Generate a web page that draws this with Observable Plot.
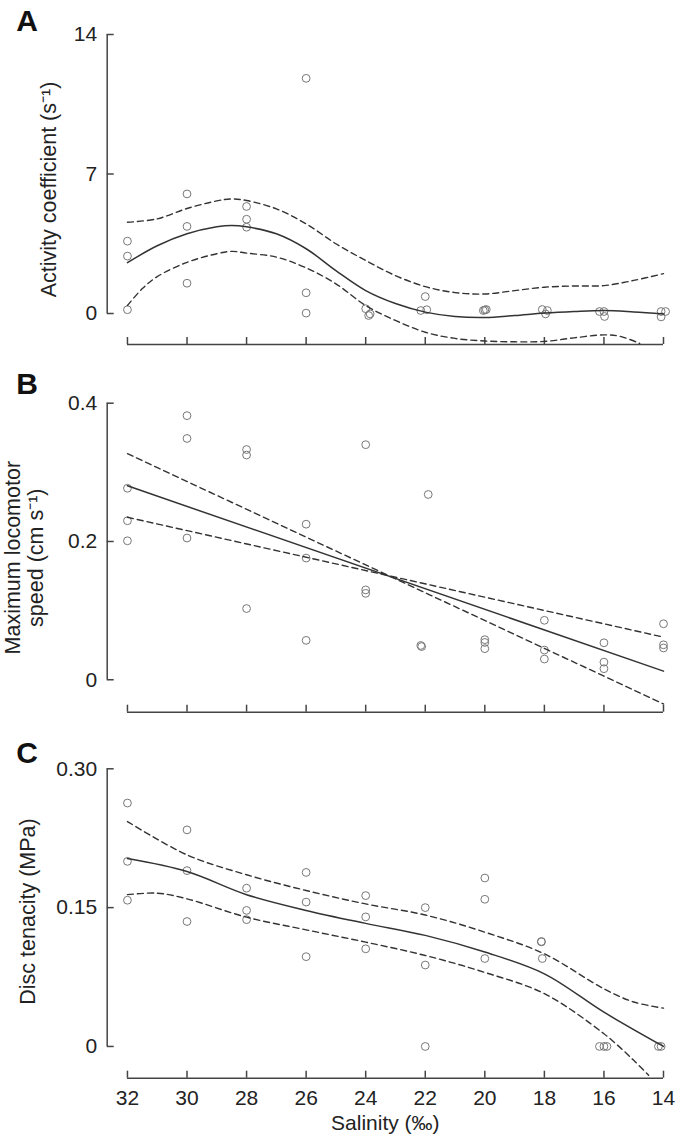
<!DOCTYPE html>
<html>
<head>
<meta charset="utf-8">
<script src="https://cdn.jsdelivr.net/npm/d3@7"></script>
<script src="https://cdn.jsdelivr.net/npm/@observablehq/plot@0.6"></script>
<style>
  body { margin: 0; background: #fff; }
  #chart svg { display: block; overflow: visible; }
</style>
</head>
<body>
<div id="chart"></div>
<script>
// salinity (‰) on a reversed x axis, shared by all three panels
const salinityTicks = [32, 30, 28, 26, 24, 22, 20, 18, 16, 14];

// A: activity coefficient
const activityTicks = [0, 7, 14];
const activityLabels = ["0", "7", "14"];
const activityX = [32, 32, 32, 30, 30, 30, 28, 28, 28, 26, 26, 26, 24, 23.9, 23.85, 22, 22.15, 21.95, 20.05, 19.95, 20, 18.07, 17.96, 17.9, 16.15, 15.98, 16, 14.08, 14.08, 13.93];
const activityY = [3.63, 2.88, 0.19, 6.0, 4.37, 1.52, 5.37, 4.73, 4.33, 11.8, 1.04, 0.02, 0.24, -0.1, -0.02, 0.85, 0.15, 0.19, 0.15, 0.2, 0.18, 0.2, -0.02, 0.15, 0.1, -0.15, 0.1, 0.1, -0.17, 0.1];
const activityFitX = [32, 31, 30, 29, 28.5, 28, 27, 26, 25, 24, 23, 22, 21, 20, 19, 18, 17, 16, 15, 14];
const activityFit = [2.55, 3.4, 4.0, 4.35, 4.42, 4.35, 4.0, 3.25, 2.15, 1.15, 0.5, 0.07, -0.15, -0.2, -0.1, 0.02, 0.1, 0.15, 0.08, -0.02];
const activityUpper = [4.58, 4.75, 5.27, 5.65, 5.75, 5.67, 5.25, 4.5, 3.5, 2.66, 1.9, 1.35, 1.05, 0.98, 1.15, 1.32, 1.38, 1.4, 1.66, 2.0];
const activityLowerX = [32, 31.5, 31, 30, 29, 28.5, 28, 27, 26, 25, 24, 23, 22, 21, 20, 19, 18, 17, 16, 15.45, 14.8];
const activityLower = [0.4, 1.25, 1.85, 2.57, 3.0, 3.12, 3.03, 2.83, 2.29, 1.49, 0.4, -0.35, -0.94, -1.25, -1.38, -1.42, -1.4, -1.22, -1.07, -1.15, -1.5];

// B: maximum locomotor speed
const speedTicks = [0, 0.2, 0.4];
const speedLabels = ["0", "0.2", "0.4"];
const speedX = [32, 32, 32, 30, 30, 30, 28, 28, 28, 26, 26, 26, 24, 24, 24, 21.9, 22.15, 22.12, 20, 20, 20, 18, 18, 18, 16, 16, 16, 14, 14, 14];
const speedY = [0.277, 0.23, 0.201, 0.382, 0.349, 0.205, 0.333, 0.325, 0.103, 0.225, 0.176, 0.057, 0.34, 0.13, 0.125, 0.268, 0.0496, 0.048, 0.058, 0.054, 0.045, 0.086, 0.043, 0.03, 0.0535, 0.0255, 0.016, 0.081, 0.0506, 0.046];
const speedFitX = [32, 14];
const speedFit = [0.2805, 0.0125];
const speedSteep = [0.327, -0.035];
const speedShallow = [0.235, 0.0617];

// C: disc tenacity
const tenacityTicks = [0, 0.15, 0.3];
const tenacityLabels = ["0", "0.15", "0.30"];
const tenacityX = [32, 32, 32, 30, 30, 30, 28, 28, 28, 26, 26, 26, 24, 24, 24, 22, 22, 22, 20, 20, 20, 18.1, 18.1, 18.07, 16.15, 16, 15.9, 14.17, 14.08];
const tenacityY = [0.263, 0.2, 0.158, 0.234, 0.19, 0.135, 0.171, 0.147, 0.137, 0.188, 0.156, 0.097, 0.163, 0.14, 0.1055, 0.15, 0.088, 0, 0.182, 0.159, 0.095, 0.1134, 0.113, 0.095, 0, 0, 0, 0, 0];
const tenacityFitX = [32, 30, 28, 26, 24, 22, 20, 18, 16, 14];
const tenacityFit = [0.203, 0.189, 0.164, 0.147, 0.133, 0.12, 0.102, 0.0785, 0.037, 0];
const tenacityUpperX = [32, 30, 28, 26, 24, 22, 20, 18, 16, 15, 14];
const tenacityUpper = [0.243, 0.207, 0.1855, 0.1685, 0.154, 0.142, 0.1235, 0.1, 0.0623, 0.048, 0.0414];
const tenacityLowerX = [32, 31, 30, 28, 26, 24, 22, 20, 18, 16, 15, 14.5];
const tenacityLower = [0.164, 0.1656, 0.1595, 0.1397, 0.126, 0.1127, 0.0983, 0.08, 0.057, 0.0137, -0.015, -0.031];

const zip = (xs, ys) => xs.map((x, i) => ({x, y: ys[i]}));

const ink = "#333";
const axisInk = "#444";
const xLeft = 32.68;

function panel(o) {
  const fmt = d => o.labels[o.ticks.indexOf(d)];
  const marks = [
    Plot.ruleX([xLeft], {y1: o.ticks[0], y2: o.ticks[o.ticks.length - 1], stroke: axisInk, strokeWidth: 1.5}),
    Plot.ruleY([o.yDomain[0]], {x1: salinityTicks[0], x2: salinityTicks[salinityTicks.length - 1], stroke: axisInk, strokeWidth: 1.5}),
    Plot.axisY(o.ticks, {tickSize: 0, tickPadding: 10, tickFormat: fmt, label: null}),
    Plot.axisY(o.ticks, {tickSize: -7, tickFormat: () => "", label: null, stroke: axisInk, strokeWidth: 1.5}),
    Plot.axisX(salinityTicks, {tickSize: -7, tickFormat: () => "", label: null, stroke: axisInk, strokeWidth: 1.5}),
    Plot.dot(o.points, {x: "x", y: "y", r: 3.9, stroke: "#777", strokeWidth: 1}),
    Plot.line(o.upper, {x: "x", y: "y", stroke: ink, strokeWidth: 1.4, strokeDasharray: "6,4", curve: o.curve}),
    Plot.line(o.lower, {x: "x", y: "y", stroke: ink, strokeWidth: 1.4, strokeDasharray: "6,4", curve: o.curve}),
    Plot.line(o.fit, {x: "x", y: "y", stroke: ink, strokeWidth: 1.5, curve: o.curve}),
    Plot.text([o.letter], {frameAnchor: "top-left", dx: -91, dy: o.letterDy, textAnchor: "start", lineAnchor: "bottom", fontWeight: "bold", fontSize: 30, fill: "#111"}),
    Plot.text([o.title], {frameAnchor: "left", rotate: -90, dx: o.titleDx, dy: o.titleDy, textAnchor: "middle", lineAnchor: "middle", fontSize: 21.5, lineHeight: 1.05, fill: "#222"})
  ];
  if (o.xLabels) {
    marks.push(Plot.axisX(salinityTicks, {tickSize: 0, tickPadding: 12, label: null}));
    marks.push(Plot.text(["Salinity (‰)"], {frameAnchor: "bottom", dy: 52, fontSize: 21, fill: "#222"}));
  }
  return Plot.plot({
    width: 675,
    height: o.height,
    marginLeft: 106.7,
    marginRight: 12,
    marginTop: o.marginTop,
    marginBottom: o.marginBottom,
    style: {fontFamily: "'Liberation Sans', Arial, sans-serif", fontSize: "21px", color: "#222", background: "#fff"},
    x: {domain: [xLeft, 14]},
    y: {domain: o.yDomain},
    marks
  });
}

const chart = document.getElementById("chart");

chart.append(panel({
  letter: "A", letterDy: -4,
  title: "Activity coefficient (s⁻¹)", titleDx: -58.7, titleDy: 0,
  height: 360, marginTop: 34, marginBottom: 16,
  yDomain: [-1.555, 14], ticks: activityTicks, labels: activityLabels,
  points: zip(activityX, activityY),
  fit: zip(activityFitX, activityFit),
  upper: zip(activityFitX, activityUpper),
  lower: zip(activityLowerX, activityLower),
  curve: "catmull-rom"
}));

chart.append(panel({
  letter: "B", letterDy: -9.7,
  title: "Maximum locomotor\nspeed (cm s⁻¹)", titleDx: -82.7, titleDy: 0,
  height: 370, marginTop: 42.7, marginBottom: 18.3,
  yDomain: [-0.0469, 0.4], ticks: speedTicks, labels: speedLabels,
  points: zip(speedX, speedY),
  fit: zip(speedFitX, speedFit),
  upper: zip(speedFitX, speedSteep),
  lower: zip(speedFitX, speedShallow),
  curve: "linear"
}));

chart.append(panel({
  letter: "C", letterDy: -6,
  title: "Disc tenacity (MPa)", titleDx: -79.7, titleDy: -12,
  height: 414, marginTop: 38.3, marginBottom: 66.3,
  yDomain: [-0.0343, 0.3], ticks: tenacityTicks, labels: tenacityLabels,
  points: zip(tenacityX, tenacityY),
  fit: zip(tenacityFitX, tenacityFit),
  upper: zip(tenacityUpperX, tenacityUpper),
  lower: zip(tenacityLowerX, tenacityLower),
  curve: "catmull-rom",
  xLabels: true
}));
</script>
</body>
</html>
